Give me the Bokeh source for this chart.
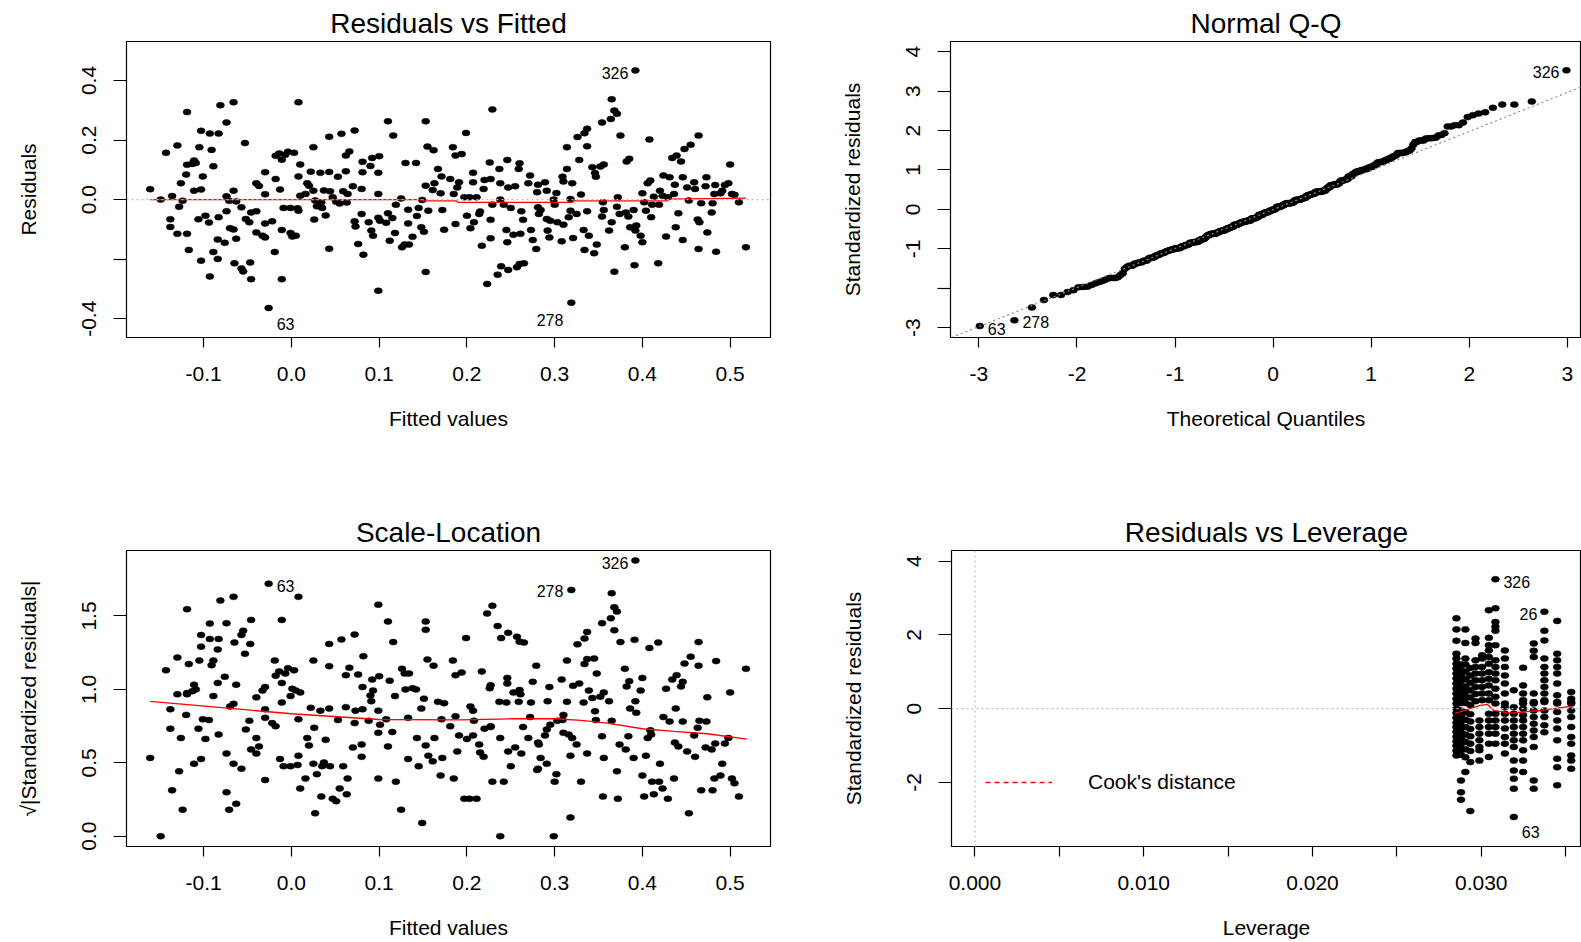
import numpy as np
from statistics import NormalDist
from bokeh.plotting import figure
from bokeh.layouts import column, row
from bokeh.models import FixedTicker, PrintfTickFormatter, Span, Slope, Legend, LegendItem
from bokeh.core.properties import value
from bokeh.embed import file_html
from bokeh.resources import INLINE

FONT = "Liberation Sans"

# ---------------- data ----------------
fitted = [
    -0.161, -0.149, -0.143, -0.138, -0.138, -0.136, -0.130, -0.130, -0.128, -0.126,
    -0.124, -0.120, -0.119, -0.119, -0.119, -0.117, -0.113, -0.111, -0.111, -0.109,
    -0.106, -0.105, -0.103, -0.103, -0.103, -0.101, -0.098, -0.094, -0.093, -0.093,
    -0.091, -0.089, -0.089, -0.084, -0.084, -0.083, -0.083, -0.081, -0.076, -0.074,
    -0.074, -0.074, -0.071, -0.070, -0.066, -0.066, -0.066, -0.065, -0.063, -0.063,
    -0.057, -0.057, -0.055, -0.053, -0.052, -0.048, -0.047, -0.046, -0.046, -0.040,
    -0.040, -0.040, -0.037, -0.033, -0.030, -0.030, -0.030, -0.030, -0.026, -0.022,
    -0.019, -0.018, -0.018, -0.014, -0.013, -0.011, -0.011, -0.011, -0.009, -0.007,
    -0.004, -0.001, -0.001, 0.001, 0.003, 0.005, 0.007, 0.008, 0.008, 0.008,
    0.010, 0.010, 0.016, 0.018, 0.020, 0.022, 0.025, 0.025, 0.026, 0.027,
    0.029, 0.033, 0.034, 0.035, 0.037, 0.039, 0.043, 0.043, 0.043, 0.044,
    0.047, 0.051, 0.053, 0.055, 0.057, 0.059, 0.062, 0.062, 0.063, 0.066,
    0.064, 0.070, 0.072, 0.072, 0.073, 0.076, 0.080, 0.080, 0.081, 0.081,
    0.082, 0.088, 0.090, 0.091, 0.092, 0.093, 0.099, 0.099, 0.100, 0.099,
    0.099, 0.101, 0.108, 0.110, 0.110, 0.112, 0.115, 0.116, 0.118, 0.119,
    0.125, 0.126, 0.129, 0.130, 0.133, 0.133, 0.134, 0.138, 0.142, 0.143,
    0.145, 0.148, 0.149, 0.151, 0.153, 0.153, 0.153, 0.155, 0.156, 0.161,
    0.162, 0.163, 0.167, 0.170, 0.171, 0.172, 0.174, 0.181, 0.184, 0.187,
    0.187, 0.185,
    0.189, 0.191, 0.194, 0.197, 0.199, 0.200, 0.203, 0.204, 0.207, 0.207,
    0.208, 0.211, 0.214, 0.215, 0.217, 0.219, 0.220, 0.223, 0.226, 0.227,
    0.227, 0.227, 0.229, 0.229, 0.235, 0.237, 0.238, 0.238, 0.239, 0.242,
    0.245, 0.246, 0.246, 0.247, 0.247, 0.250, 0.253, 0.255, 0.257, 0.259,
    0.260, 0.261, 0.260, 0.262, 0.264, 0.265, 0.270, 0.272, 0.273, 0.275,
    0.279, 0.280, 0.281, 0.281, 0.282, 0.284, 0.289, 0.291, 0.291, 0.292,
    0.294, 0.295, 0.299, 0.300, 0.302, 0.303, 0.308, 0.309, 0.310, 0.310,
    0.314, 0.314, 0.316, 0.318, 0.318, 0.319, 0.320, 0.321, 0.325, 0.326,
    0.328, 0.330, 0.333, 0.334, 0.334, 0.337, 0.337, 0.337, 0.339, 0.343,
    0.345, 0.346, 0.347, 0.348, 0.352, 0.354, 0.355, 0.356, 0.356, 0.354,
    0.362, 0.364, 0.365, 0.365, 0.368, 0.368, 0.371, 0.372, 0.371, 0.374,
    0.375, 0.380, 0.381, 0.382, 0.384, 0.385, 0.386, 0.390, 0.391, 0.392,
    0.392, 0.393, 0.398, 0.400, 0.400, 0.402, 0.404, 0.406, 0.408, 0.409,
    0.410, 0.411, 0.413, 0.418, 0.419, 0.420, 0.423, 0.424, 0.427, 0.429,
    0.431, 0.434, 0.436, 0.437, 0.438, 0.439, 0.441, 0.444, 0.446, 0.446,
    0.448, 0.451, 0.453, 0.455, 0.459, 0.460, 0.463, 0.464, 0.464, 0.465,
    0.467, 0.472, 0.473, 0.474, 0.479, 0.480, 0.482, 0.483, 0.484, 0.489,
    0.491, 0.494, 0.498, 0.500, 0.502, 0.505, 0.510, 0.518,
]
residuals = [
    0.035, 0.000, 0.157, -0.066, -0.092, 0.012, 0.182, -0.115, -0.024, 0.055,
    -0.004, 0.084, 0.294, 0.117, -0.115, -0.169, 0.120, 0.131, 0.030, 0.123,
    -0.066, 0.176, 0.231, 0.034, -0.205, 0.078, -0.054, -0.077, 0.222, -0.258,
    0.167, 0.112, -0.176, -0.134, -0.199, 0.222, -0.059, 0.317, -0.145, -0.039,
    0.259, 0.011, -0.004, -0.096, 0.327, 0.030, -0.100, -0.214, -0.006, -0.131,
    -0.231, -0.026, -0.241, 0.190, -0.065, -0.076, -0.211, -0.267, -0.043, -0.039,
    0.055, -0.110, 0.046, -0.121, -0.080, 0.092, 0.018, -0.127, -0.364, -0.073,
    -0.176, 0.069, 0.147, 0.155, 0.034, -0.267, 0.134, -0.102, -0.028, 0.151,
    0.161, -0.028, -0.112, -0.124, 0.157, -0.121, -0.029, 0.327, 0.078, -0.037,
    0.013, 0.118, 0.019, 0.055, 0.047, 0.094, 0.176, 0.030, -0.067, -0.003,
    -0.022, 0.090, -0.009, -0.028, 0.031, -0.053, 0.093, 0.211, -0.165, 0.028,
    0.008, -0.007, 0.077, -0.013, 0.221, 0.028, 0.148, 0.095, -0.010, 0.162,
    0.019, 0.045, 0.232, -0.073, -0.090, -0.149, 0.036, -0.048, 0.127, 0.092,
    -0.185, -0.076, 0.113, -0.104, 0.140, -0.121, 0.090, 0.019, 0.146, -0.061,
    -0.306, -0.071, -0.078, 0.263, -0.046, -0.138, -0.062, 0.215, -0.112, -0.017,
    0.004, -0.160, -0.151, 0.123, -0.034, -0.080, -0.151, -0.125, 0.123, -0.055,
    -0.028, -0.093, -0.001, -0.108, 0.263, 0.047, -0.243, 0.178, -0.037, 0.032,
    0.166, 0.055, 0.103, 0.021, 0.078, -0.035, -0.101, 0.069, 0.176, 0.148,
    -0.082, 0.019,
    0.041, 0.058, 0.153, 0.008, 0.224, -0.054, 0.008, -0.096, 0.090, 0.058,
    -0.076, 0.008, -0.048, -0.040, -0.155, 0.036, 0.066, -0.283, 0.125, 0.069,
    -0.068, -0.130, 0.303, -0.017, -0.252, 0.103, 0.055, 0.000, -0.224, -0.017,
    -0.102, 0.133, -0.143, 0.041, -0.236, -0.028, -0.118, 0.045, -0.227, 0.103,
    0.122, -0.115, -0.216, -0.039, -0.068, -0.214, 0.055, 0.081, -0.102, -0.136,
    -0.166, 0.025, 0.050, -0.026, -0.048, -0.035, 0.058, 0.030, -0.065, -0.104,
    -0.127, -0.071, 0.000, -0.017, 0.022, -0.076, -0.140, 0.077, 0.061, -0.084,
    0.103, 0.176, -0.059, -0.037, 0.002, -0.346, 0.055, -0.129, -0.048, 0.210,
    0.133, 0.017, -0.102, -0.169, 0.223, 0.238, -0.039, 0.179, -0.121, 0.109,
    -0.180, 0.089, 0.077, -0.151, 0.111, 0.259, -0.009, 0.118, -0.035, -0.057,
    -0.104, 0.271, 0.337, -0.076, 0.299, -0.242, 0.288, 0.008, -0.024, -0.048,
    0.215, -0.160, -0.043, 0.128, -0.057, 0.137, -0.093, -0.035, -0.220, 0.434,
    -0.104, -0.087, -0.121, 0.021, -0.143, -0.009, -0.037, 0.055, 0.202, 0.064,
    -0.059, -0.017, 0.010, -0.214, -0.017, 0.030, 0.013, 0.081, -0.124, 0.008,
    0.075, 0.140, 0.019, 0.050, -0.093, 0.148, -0.046, 0.128, -0.136, 0.075,
    0.170, 0.041, -0.003, 0.184, 0.058, 0.036, -0.067, 0.215, -0.166, -0.076,
    -0.012, 0.045, 0.075, -0.110, -0.043, -0.012, 0.019, 0.049, -0.175, 0.021,
    0.030, 0.049, 0.055, 0.118, 0.019, 0.016, -0.009, -0.160,
]

# labelled observations (they are part of the arrays above)
id_labels = ["326", "63", "278"]
id_fitted = [0.392, -0.026, 0.319]
id_resid = [0.434, -0.364, -0.346]

# residual standard error * sqrt(1 - h)
resid_scale = 0.123

# red smoother lines
rvf_smooth_x = [-0.161, 0.149, 0.150, 0.188, 0.190, 0.320, 0.322, 0.428, 0.430, 0.518]
rvf_smooth_y = [0.000, 0.000, -0.004, -0.004, -0.009, -0.009, -0.004, -0.004, 0.002, 0.005]
sl_smooth_x = [-0.161, 0.0, 0.1, 0.193, 0.25, 0.3, 0.33, 0.36, 0.4, 0.436, 0.474, 0.519]
sl_smooth_y = [0.918, 0.834, 0.795, 0.792, 0.80, 0.80, 0.789, 0.77, 0.732, 0.714, 0.698, 0.661]

# residuals vs leverage: standardized residuals stacked at each leverage value
lev_positions = [0.02853, 0.02880, 0.02906, 0.02935, 0.02966, 0.02989, 0.03005,
                 0.03045, 0.03084, 0.03140, 0.03193, 0.03248, 0.03311, 0.03374,
                 0.03450, 0.03533]
lev_std_resid = [
    [2.45, 2.15, 1.84, 1.49, 1.36, 1.22, 1.09, 0.95, 0.82, 0.68, 0.54, 0.41, 0.27, 0.14, 0.0,
     -0.12, -0.25, -0.38, -0.50, -0.63, -0.76, -0.89, -1.01, -1.14, -1.27],
    [1.20, 1.05, 0.90, 0.75, 0.60, 0.45, 0.30, 0.15, -0.05, -0.20, -0.35, -0.50, -0.65,
     -0.80, -0.95, -1.10, -1.25, -1.95, -2.27, -2.47],
    [2.15, 1.78, 1.36, 1.20, 1.00, 0.80, 0.60, 0.45, 0.30, 0.15, -0.10, -0.30, -0.50,
     -0.70, -0.90, -1.10, -1.32, -1.72],
    [1.10, 0.90, 0.70, 0.50, 0.30, 0.10, -0.15, -0.35, -0.55, -0.75, -0.95, -1.15, -1.45, -2.78],
    [1.90, 1.78, 1.31, 1.13, 0.95, 0.77, 0.59, 0.40, 0.20],
    [-0.32, -0.50, -0.68, -0.86, -1.04, -1.13, -1.41],
    [1.45, 1.36, 1.13, 0.95, 0.77, 0.59, 0.41, 0.23],
    [2.67, 1.92, 1.72, 1.58, 1.40, 1.22, 0.99, 0.81, 0.63, 0.41, 0.23, -0.14, -0.32, -0.50,
     -0.68, -0.95, -1.31],
    [3.51, 2.72, 2.35, 2.22, 2.11, 1.72, 1.31, 1.13, 0.95, 0.77, 0.54, 0.32, 0.14, -0.14,
     -0.32, -0.50, -0.68, -0.95],
    [1.58, 1.36, 1.13, 0.90, 0.68, 0.41, 0.14, 0.04, -0.14, -0.32, -0.54, -0.77, -0.95, -1.22],
    [0.50, 0.04, -0.14, -0.32, -0.50, -0.68, -0.86, -1.04, -1.41, -1.68, -1.90, -2.17, -2.94],
    [1.11, 0.63, 0.41, 0.23, 0.14, 0.0, -0.18, -0.32, -0.50, -0.68, -0.86, -1.13, -1.41, -1.72],
    [1.77, 1.57, 1.40, 0.41, 0.18, 0.14, -0.05, -0.23, -0.41, -0.59, -0.77, -1.04, -1.95, -2.17],
    [2.63, 2.11, 1.85, 1.36, 1.13, 0.95, 0.77, 0.59, 0.41, 0.23, 0.18, -0.05, -0.23, -0.45, -0.64],
    [2.38, 1.49, 1.31, 1.13, 0.95, 0.68, 0.36, 0.18, 0.14, -0.09, -0.32, -0.54, -0.86, -1.36,
     -1.59, -2.08],
    [0.45, 0.27, 0.14, 0.18, -0.05, -0.23, -0.50, -0.77, -0.95, -1.27, -1.41, -1.63],
]
lev_smooth_x = [0.02845, 0.02995, 0.03035, 0.03074, 0.03173, 0.03351, 0.03528]
lev_smooth_y = [-0.13, 0.09, 0.117, -0.05, -0.12, -0.05, 0.06]
lev_id_labels = ["326", "26", "63"]
lev_id_x = [0.03084, 0.03374, 0.03193]
lev_id_y = [3.51, 2.63, -2.94]

# ---------------- derived quantities (plot.lm definitions) ----------------
fitted_a = np.array(fitted)
resid_a = np.array(residuals)
std_resid = resid_a / resid_scale
sqrt_abs_std = np.sqrt(np.abs(std_resid))

nd = NormalDist()
n = len(std_resid)
order = np.argsort(std_resid)
theo = np.array([nd.inv_cdf((i - 0.5) / n) for i in range(1, n + 1)])
qq_y = std_resid[order]
q1, q3 = np.percentile(std_resid, [25, 75])
qq_slope = (q3 - q1) / (nd.inv_cdf(0.75) - nd.inv_cdf(0.25))
qq_int = q1 - qq_slope * nd.inv_cdf(0.25)

id_idx = [int(np.where(np.isclose(fitted_a, fx) & np.isclose(resid_a, ry))[0][0])
          for fx, ry in zip(id_fitted, id_resid)]
id_rank = [int(np.where(order == i)[0][0]) for i in id_idx]

lev_x = np.concatenate([[lv] * len(col) for lv, col in zip(lev_positions, lev_std_resid)])
lev_y = np.concatenate([col for col in lev_std_resid])

TICK_PX = "21px"
LABEL_PX = "21px"
TITLE_PX = "28px"
ID_PX = "16px"


# ---------------- helpers ----------------
def make_fig(width, height, xr, yr, left, right, top, bottom):
    return figure(width=width, height=height, x_range=xr, y_range=yr,
                  min_border_left=left, min_border_right=right,
                  min_border_top=top, min_border_bottom=bottom,
                  output_backend="svg", toolbar_location=None)


def style(p, title, xlabel, ylabel, xticks, xminor, xfmt, yticks, yminor, yfmt):
    p.title.text = title
    p.title.text_font = FONT
    p.title.text_font_size = TITLE_PX
    p.title.text_font_style = "normal"
    p.title.text_color = "black"
    p.title.align = "center"
    p.title.standoff = 5
    p.grid.visible = False
    p.outline_line_color = "black"
    p.outline_line_width = 1.2
    p.background_fill_color = "white"
    p.border_fill_color = "white"

    xa = p.xaxis[0]
    xa.ticker = FixedTicker(ticks=xticks, minor_ticks=xminor)
    xa.formatter = PrintfTickFormatter(format=xfmt)
    xa.axis_line_color = None
    xa.major_tick_in = 0
    xa.major_tick_out = 10
    xa.minor_tick_in = 0
    xa.minor_tick_out = 10
    xa.major_tick_line_color = "black"
    xa.minor_tick_line_color = "black"
    xa.major_tick_line_width = 1.2
    xa.minor_tick_line_width = 1.2
    xa.major_label_text_font = FONT
    xa.major_label_text_font_size = TICK_PX
    xa.major_label_text_color = "black"
    xa.major_label_standoff = 19
    xa.axis_label = xlabel
    xa.axis_label_text_font = FONT
    xa.axis_label_text_font_size = LABEL_PX
    xa.axis_label_text_font_style = "normal"
    xa.axis_label_text_color = "black"
    xa.axis_label_standoff = 23

    ya = p.yaxis[0]
    ya.ticker = FixedTicker(ticks=yticks, minor_ticks=yminor)
    ya.formatter = PrintfTickFormatter(format=yfmt)
    ya.axis_line_color = None
    ya.major_tick_in = 0
    ya.major_tick_out = 13
    ya.minor_tick_in = 0
    ya.minor_tick_out = 13
    ya.major_tick_line_color = "black"
    ya.minor_tick_line_color = "black"
    ya.major_tick_line_width = 1.2
    ya.minor_tick_line_width = 1.2
    ya.major_label_orientation = "vertical"
    ya.major_label_text_font = FONT
    ya.major_label_text_font_size = TICK_PX
    ya.major_label_text_color = "black"
    ya.major_label_standoff = 17
    ya.axis_label = ylabel
    ya.axis_label_text_font = FONT
    ya.axis_label_text_font_size = LABEL_PX
    ya.axis_label_text_font_style = "normal"
    ya.axis_label_text_color = "black"
    ya.axis_label_standoff = 40


def dots(p, x, y):
    p.ellipse(x=x, y=y, width=8, height=6, width_units="screen", height_units="screen",
              fill_color="black", line_color="black", line_width=0.5)


def id_text(p, x, y, label, align, dx, dy):
    p.text(x=[x], y=[y], text=[label], text_font=value(FONT), text_font_size=ID_PX,
           text_align=align, text_baseline="middle", x_offset=dx, y_offset=dy,
           text_color="black")


GREY_LIGHT = "#BEBEBE"
GREY_DARK = "#8C8C8C"

# ---------------- Residuals vs Fitted ----------------
p1 = make_fig(824, 471, (-0.188, 0.546), (-0.463, 0.531), 126, 54, 41, 134)
style(p1, "Residuals vs Fitted", "Fitted values", "Residuals",
      [-0.1, 0.0, 0.1, 0.2, 0.3, 0.4, 0.5], [], "%.1f",
      [-0.4, 0.0, 0.2, 0.4], [-0.2], "%.1f")
dots(p1, fitted_a, resid_a)
p1.line(rvf_smooth_x, rvf_smooth_y, line_color="red", line_width=1.3)
p1.add_layout(Span(location=0, dimension="width", line_color=GREY_LIGHT,
                   line_dash="2 3", line_width=1.2))
id_text(p1, id_fitted[0], id_resid[0], id_labels[0], "right", -7, 3)
id_text(p1, id_fitted[1], id_resid[1], id_labels[1], "left", 8, 16)
id_text(p1, id_fitted[2], id_resid[2], id_labels[2], "right", -8, 17)

# ---------------- Normal Q-Q ----------------
p2 = make_fig(757, 471, (-3.29, 3.145), (-3.25, 4.26), 126, 0, 41, 134)
style(p2, "Normal Q-Q", "Theoretical Quantiles", "Standardized residuals",
      [-3, -2, -1, 0, 1, 2, 3], [], "%d",
      [-3, -1, 0, 1, 2, 3, 4], [-2], "%d")
dots(p2, theo, qq_y)
p2.add_layout(Slope(gradient=qq_slope, y_intercept=qq_int, line_color=GREY_DARK,
                    line_dash="2 3", line_width=1.2))
qq_id_x = [theo[r] for r in id_rank]
qq_id_y = [qq_y[r] for r in id_rank]
id_text(p2, qq_id_x[0], qq_id_y[0], id_labels[0], "right", -7, 2)
id_text(p2, qq_id_x[1], qq_id_y[1], id_labels[1], "left", 8, 3)
id_text(p2, qq_id_x[2], qq_id_y[2], id_labels[2], "left", 8, 2)

# ---------------- Scale-Location ----------------
p3 = make_fig(824, 471, (-0.188, 0.546), (-0.07, 1.946), 126, 54, 79, 96)
style(p3, "Scale-Location", "Fitted values", "\u221a|Standardized residuals|",
      [-0.1, 0.0, 0.1, 0.2, 0.3, 0.4, 0.5], [], "%.1f",
      [0.0, 0.5, 1.0, 1.5], [], "%.1f")
dots(p3, fitted_a, sqrt_abs_std)
p3.line(sl_smooth_x, sl_smooth_y, line_color="red", line_width=1.3)
sl_id_y = [float(np.sqrt(abs(r) / resid_scale)) for r in id_resid]
id_text(p3, id_fitted[0], sl_id_y[0], id_labels[0], "right", -7, 3)
id_text(p3, id_fitted[1], sl_id_y[1], id_labels[1], "left", 8, 2)
id_text(p3, id_fitted[2], sl_id_y[2], id_labels[2], "right", -8, 1)

# ---------------- Residuals vs Leverage ----------------
p4 = make_fig(757, 471, (-0.00139, 0.03594), (-3.74, 4.29), 127, 0, 79, 96)
style(p4, "Residuals vs Leverage", "Leverage", "Standardized residuals",
      [0.0, 0.01, 0.02, 0.03], [0.005, 0.015, 0.025, 0.035], "%.3f",
      [-2, 0, 2, 4], [], "%d")
p4.add_layout(Span(location=0, dimension="width", line_color=GREY_LIGHT,
                   line_dash="2 3", line_width=1.2))
p4.add_layout(Span(location=0, dimension="height", line_color=GREY_LIGHT,
                   line_dash="2 3", line_width=1.2))
dots(p4, lev_x, lev_y)
p4.line(lev_smooth_x, lev_smooth_y, line_color="red", line_width=1.3)
id_text(p4, lev_id_x[0], lev_id_y[0], lev_id_labels[0], "left", 8, 3)
id_text(p4, lev_id_x[1], lev_id_y[1], lev_id_labels[1], "right", -7, 2)
id_text(p4, lev_id_x[2], lev_id_y[2], lev_id_labels[2], "left", 8, 15)
cook = p4.line(x=[np.nan, np.nan], y=[np.nan, np.nan], line_color="red",
               line_dash="5 4", line_width=1.3)
legend = Legend(items=[LegendItem(label=value("Cook's distance"), renderers=[cook], index=0)],
                location=(34, 52), border_line_color=None, background_fill_alpha=0,
                padding=0, margin=0, spacing=0, glyph_width=67, glyph_height=20,
                label_standoff=36, label_height=20, label_text_font=FONT,
                label_text_font_size=LABEL_PX, label_text_color="black")
p4.add_layout(legend)

layout = column(row(p1, p2), row(p3, p4))
open("out.html", "w").write(file_html(layout, INLINE))
